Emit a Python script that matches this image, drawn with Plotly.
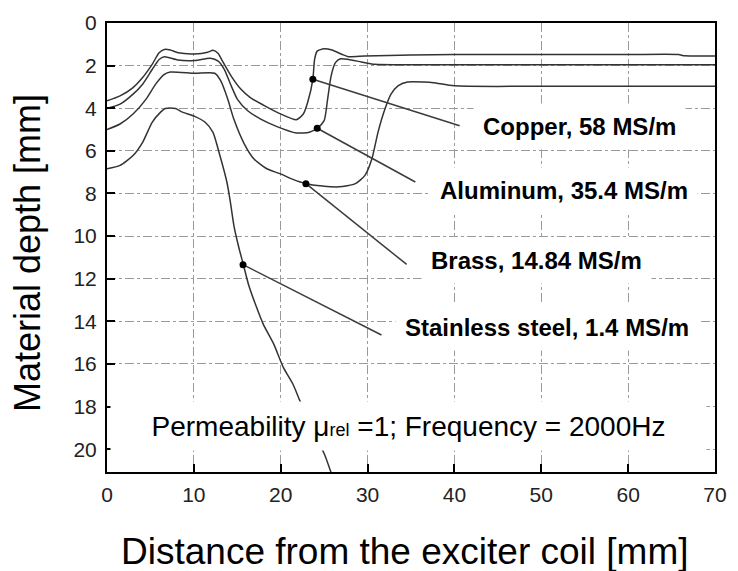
import plotly.graph_objects as go

# ---------------- data ----------------
copper_x = [0, 1.5, 3.0, 4.1, 5.2, 6.0, 6.6, 7.3, 8.2, 10.1, 11.6, 12.2, 12.8, 13.3, 14.3, 15.4,
            16.5, 18.0, 19.9, 21.8, 22.6, 23.1, 23.7, 23.9, 24.2, 25.0, 25.9, 27.1, 27.8, 29.7,
            35, 40, 50, 60, 65.8, 66.5, 70]
copper_y = [3.65, 3.42, 3.03, 2.56, 1.94, 1.40, 1.24, 1.27, 1.40, 1.45, 1.37, 1.28, 1.43, 1.79, 2.49, 3.10,
            3.50, 3.85, 4.25, 4.54, 4.27, 3.73, 2.64, 1.71, 1.32, 1.21, 1.27, 1.48, 1.58, 1.55,
            1.50, 1.48, 1.48, 1.48, 1.48, 1.54, 1.55]

aluminum_x = [0, 1.5, 3.0, 4.1, 5.2, 6.0, 6.6, 8.2, 10.1, 11.9, 12.8, 13.5, 14.3, 15.0, 16.2, 17.7,
              19.5, 21.8, 23.3, 24.2, 25.0, 25.4, 25.8, 26.3, 26.9, 27.8, 29.3, 30.8, 35, 40, 50, 60, 70]
aluminum_y = [4.01, 3.81, 3.34, 2.87, 2.18, 1.71, 1.58, 1.74, 1.76, 1.66, 1.79, 2.18, 2.95, 3.57, 4.12, 4.51,
              4.85, 5.16, 5.13, 4.94, 4.58, 3.57, 2.49, 1.86, 1.68, 1.71, 1.83, 1.94, 1.96, 1.96, 1.96, 1.96, 1.96]

brass_x = [0, 1.5, 3.0, 4.5, 5.6, 6.6, 7.3, 10.1, 12.4, 13.1, 13.9, 14.6, 15.8, 16.9, 18.4, 19.9,
           21.4, 22.9, 24.8, 26.7, 28.6, 29.7, 30.5, 31.2, 32.0, 32.7, 33.5, 34.6, 36.5, 37.6, 40, 50, 60, 70]
brass_y = [5.00, 4.74, 4.27, 3.57, 2.87, 2.41, 2.30, 2.36, 2.36, 2.72, 3.57, 4.51, 5.67, 6.37, 6.84, 7.07,
           7.34, 7.54, 7.65, 7.69, 7.54, 7.15, 6.37, 5.13, 4.04, 3.34, 2.95, 2.77, 2.77, 2.80, 2.95, 2.97, 2.97, 2.97]

steel_x = [0, 1.5, 3.0, 4.1, 5.2, 6.2, 6.7, 7.9, 8.6, 10.1, 11.3, 12.2, 13.0, 13.8, 14.2, 14.6,
           15.2, 15.7, 16.3, 17.1, 18.0, 19.2, 20.3, 21.4, 22.2, 23.5, 25.0, 25.8]
steel_y = [6.84, 6.68, 6.22, 5.60, 4.66, 4.17, 4.01, 4.01, 4.17, 4.38, 4.66, 5.13, 6.22, 7.46, 8.39, 9.48,
           10.57, 11.34, 12.28, 13.21, 14.14, 15.07, 16.16, 16.94, 17.72, 19.0, 20.2, 21.1]

# labelled points on each curve
label_texts = ["Copper, 58 MS/m", "Aluminum, 35.4 MS/m", "Brass, 14.84 MS/m", "Stainless steel, 1.4 MS/m"]
point_x = [23.7, 24.2, 22.9, 15.66]
point_y = [2.64, 4.94, 7.54, 11.34]

# label placement (leader-line end, text left edge / centre)
leader_end_x = [40.6, 35.5, 34.5, 31.6]
leader_end_y = [4.82, 7.46, 11.33, 14.64]
text_left_x = [42.1, 37.2, 36.1, 33.1]
text_mid_y = [4.85, 7.85, 11.15, 14.27]

x_ticks = [0, 10, 20, 30, 40, 50, 60, 70]
y_ticks = [0, 2, 4, 6, 8, 10, 12, 14, 16, 18, 20]

# ---------------- figure ----------------
FONT = "Liberation Sans, Arial, sans-serif"
LINE_COLOR = "#333333"

fig = go.Figure()
for xs, ys in [(copper_x, copper_y), (aluminum_x, aluminum_y), (brass_x, brass_y), (steel_x, steel_y)]:
    fig.add_trace(go.Scatter(x=xs, y=ys, mode="lines",
                             line=dict(color=LINE_COLOR, width=1.5, shape="spline", smoothing=0.6),
                             hoverinfo="skip"))

for i in range(len(label_texts)):
    fig.add_trace(go.Scatter(x=[point_x[i], leader_end_x[i]], y=[point_y[i], leader_end_y[i]],
                             mode="lines", line=dict(color="#3c3c3c", width=1.5), hoverinfo="skip"))

fig.add_trace(go.Scatter(x=point_x, y=point_y, mode="markers",
                         marker=dict(color="black", size=7), hoverinfo="skip"))

annotations = []
for i, t in enumerate(label_texts):
    annotations.append(dict(x=text_left_x[i], y=text_mid_y[i], xref="x", yref="y",
                            text="<b>%s</b>" % t, showarrow=False, xanchor="left", yanchor="middle",
                            font=dict(family=FONT, size=24, color="black"),
                            bgcolor="white", borderpad=9))

annotations.append(dict(x=34.7, y=18.9, xref="x", yref="y",
                        text='Permeability \u03bc<span style="font-size:18px">rel</span> =1; Frequency = 2000Hz',
                        showarrow=False, xanchor="center", yanchor="middle",
                        width=595, height=48, bgcolor="white", borderpad=0,
                        font=dict(family=FONT, size=28, color="black")))

annotations.append(dict(x=0.4887, y=-0.178, xref="paper", yref="paper",
                        text="Distance from the exciter coil [mm]", showarrow=False,
                        xanchor="center", yanchor="middle",
                        font=dict(family=FONT, size=37, color="black")))
annotations.append(dict(x=-0.1298, y=0.4878, xref="paper", yref="paper",
                        text="Material depth [mm]", showarrow=False, textangle=-90,
                        xanchor="center", yanchor="middle",
                        font=dict(family=FONT, size=36, color="black")))

fig.update_layout(
    width=738, height=571,
    margin=dict(l=107, r=11, t=20, b=99),
    paper_bgcolor="white", plot_bgcolor="white",
    showlegend=False,
    annotations=annotations,
)
fig.update_xaxes(range=[0, 70], tickvals=x_ticks, ticks="inside", ticklen=8, tickwidth=2,
                 tickcolor="black", showline=True, mirror=True, linewidth=2, linecolor="black",
                 showgrid=True, gridcolor="#9a9a9a", gridwidth=1, griddash="dashdot", zeroline=False,
                 tickfont=dict(family=FONT, size=21, color="#222222"), ticklabelstandoff=3)
fig.update_yaxes(range=[21.07, 0], tickvals=y_ticks, ticks="inside", ticklen=8, tickwidth=2,
                 tickcolor="black", showline=True, mirror=True, linewidth=2, linecolor="black",
                 showgrid=True, gridcolor="#9a9a9a", gridwidth=1, griddash="dashdot", zeroline=False,
                 tickfont=dict(family=FONT, size=21, color="#222222"), ticklabelstandoff=4)

fig.write_html("out.html")
